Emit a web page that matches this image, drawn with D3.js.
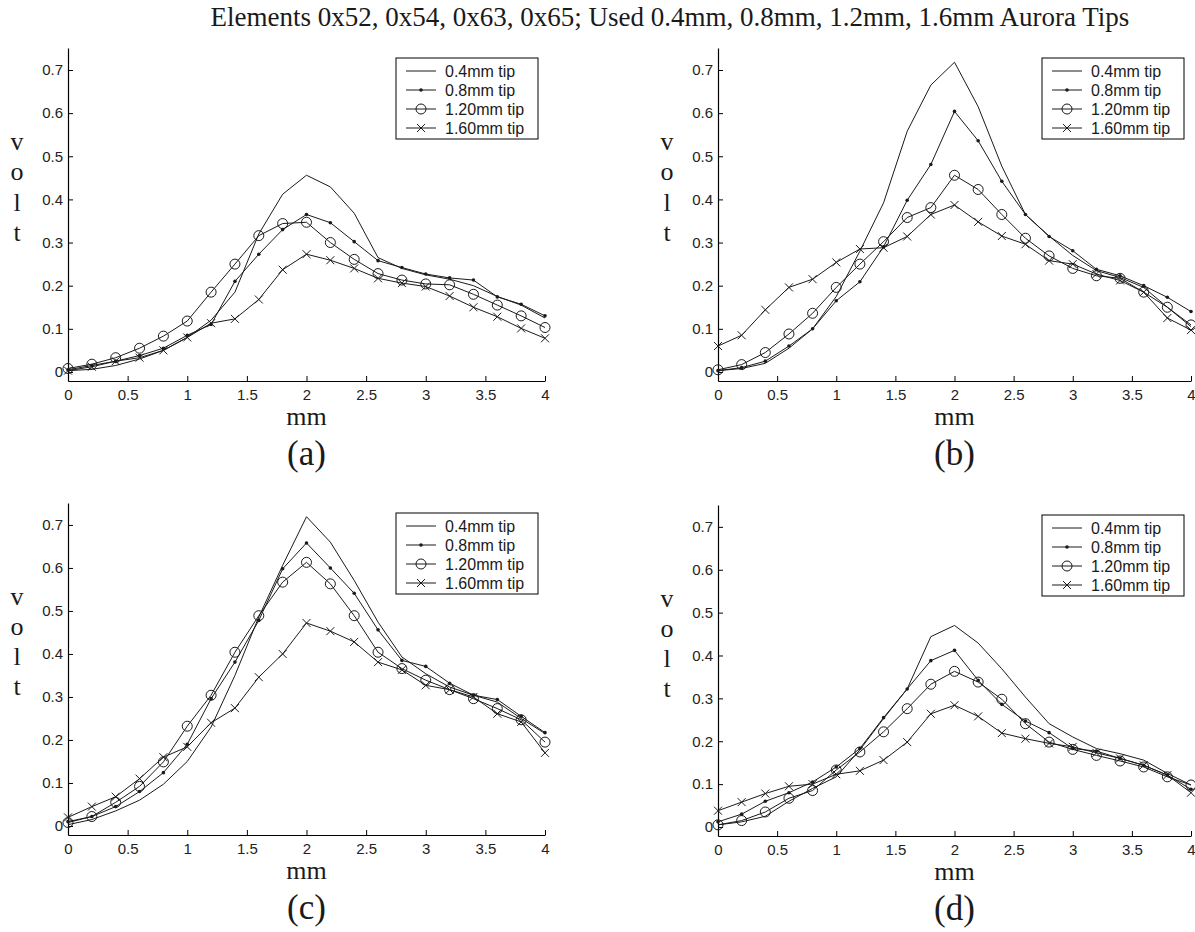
<!DOCTYPE html>
<html>
<head>
<meta charset="utf-8">
<script src="https://cdn.jsdelivr.net/npm/d3@7"></script>
<style>
body { margin: 0; background: #fff; }
</style>
</head>
<body>
<div id="chart"></div>
<script>
var titleText = "Elements 0x52, 0x54, 0x63, 0x65; Used 0.4mm, 0.8mm, 1.2mm, 1.6mm Aurora Tips";
var seriesNames = ["0.4mm tip", "0.8mm tip", "1.20mm tip", "1.60mm tip"];
var panelNames = ["(a)", "(b)", "(c)", "(d)"];
var xMm = [0, 0.2, 0.4, 0.6, 0.8, 1, 1.2, 1.4, 1.6, 1.8, 2, 2.2, 2.4, 2.6, 2.8, 3, 3.2, 3.4, 3.6, 3.8, 4];
var xTicks = [0, 0.5, 1, 1.5, 2, 2.5, 3, 3.5, 4];
var yTicks = [0, 0.1, 0.2, 0.3, 0.4, 0.5, 0.6, 0.7];

// panel (a)
var a04 = [0.003, 0.006, 0.015, 0.03, 0.05, 0.08, 0.12, 0.185, 0.32, 0.412, 0.456, 0.429, 0.368, 0.265, 0.24, 0.225, 0.215, 0.2, 0.175, 0.155, 0.125];
var a08 = [0.005, 0.015, 0.025, 0.038, 0.055, 0.085, 0.11, 0.21, 0.273, 0.33, 0.365, 0.346, 0.302, 0.258, 0.242, 0.227, 0.218, 0.213, 0.174, 0.157, 0.13];
var a12 = [0.008, 0.018, 0.033, 0.055, 0.083, 0.118, 0.185, 0.25, 0.316, 0.344, 0.347, 0.3, 0.261, 0.228, 0.213, 0.204, 0.202, 0.18, 0.155, 0.13, 0.103];
var a16 = [0.003, 0.012, 0.025, 0.033, 0.05, 0.08, 0.113, 0.123, 0.168, 0.237, 0.273, 0.259, 0.24, 0.217, 0.206, 0.198, 0.176, 0.15, 0.128, 0.101, 0.078];
// panel (b)
var b04 = [0.003, 0.008, 0.02, 0.055, 0.1, 0.175, 0.28, 0.392, 0.558, 0.665, 0.718, 0.615, 0.477, 0.365, 0.315, 0.27, 0.235, 0.219, 0.196, 0.15, 0.105];
var b08 = [0.003, 0.01, 0.025, 0.06, 0.1, 0.165, 0.209, 0.29, 0.398, 0.481, 0.604, 0.536, 0.442, 0.365, 0.314, 0.281, 0.238, 0.223, 0.2, 0.173, 0.14];
var b12 = [0.005, 0.017, 0.045, 0.088, 0.136, 0.196, 0.25, 0.302, 0.358, 0.381, 0.456, 0.423, 0.365, 0.31, 0.269, 0.24, 0.223, 0.217, 0.185, 0.15, 0.109];
var b16 = [0.06, 0.085, 0.144, 0.196, 0.215, 0.254, 0.285, 0.288, 0.314, 0.365, 0.387, 0.348, 0.315, 0.296, 0.258, 0.25, 0.227, 0.212, 0.185, 0.125, 0.097];
// panel (c)
var c04 = [0.003, 0.015, 0.035, 0.06, 0.097, 0.15, 0.23, 0.35, 0.486, 0.606, 0.719, 0.66, 0.571, 0.474, 0.393, 0.354, 0.323, 0.304, 0.288, 0.25, 0.215];
var c08 = [0.01, 0.022, 0.045, 0.08, 0.124, 0.19, 0.296, 0.381, 0.478, 0.598, 0.658, 0.6, 0.541, 0.456, 0.385, 0.371, 0.332, 0.304, 0.294, 0.255, 0.217];
var c12 = [0.008, 0.022, 0.055, 0.092, 0.149, 0.232, 0.304, 0.404, 0.489, 0.567, 0.613, 0.563, 0.489, 0.404, 0.366, 0.339, 0.317, 0.296, 0.273, 0.247, 0.195];
var c16 = [0.02, 0.045, 0.068, 0.11, 0.16, 0.184, 0.24, 0.274, 0.346, 0.4, 0.472, 0.453, 0.428, 0.381, 0.363, 0.327, 0.317, 0.3, 0.261, 0.242, 0.17];
// panel (d)
var d04 = [0.005, 0.012, 0.025, 0.06, 0.09, 0.117, 0.18, 0.253, 0.322, 0.444, 0.47, 0.429, 0.369, 0.303, 0.241, 0.21, 0.183, 0.171, 0.156, 0.125, 0.098];
var d08 = [0.012, 0.03, 0.06, 0.08, 0.105, 0.14, 0.183, 0.255, 0.322, 0.388, 0.412, 0.342, 0.286, 0.247, 0.22, 0.183, 0.177, 0.16, 0.144, 0.121, 0.088];
var d12 = [0.005, 0.015, 0.035, 0.067, 0.085, 0.133, 0.175, 0.222, 0.276, 0.333, 0.363, 0.338, 0.298, 0.241, 0.198, 0.181, 0.167, 0.154, 0.14, 0.117, 0.098];
var d16 = [0.038, 0.058, 0.078, 0.095, 0.1, 0.123, 0.131, 0.156, 0.198, 0.264, 0.284, 0.258, 0.219, 0.206, 0.195, 0.187, 0.173, 0.16, 0.144, 0.121, 0.08];

var panelData = [[a04, a08, a12, a16], [b04, b08, b12, b16], [c04, c08, c12, c16], [d04, d08, d12, d16]];
var markerKinds = ["none", "dot", "circle", "cross"];

var w = 1195;
var h = 932;
var ink = "#1a1a1a";
var sans = "'Liberation Sans', Arial, sans-serif";
var serif = "'Liberation Serif', 'Times New Roman', serif";

// plot boxes for the 2x2 grid
var boxes = [
	{left: 68, right: 545, top: 48, bottom: 381},
	{left: 718, right: 1191, top: 48, bottom: 381},
	{left: 68, right: 545, top: 503, bottom: 835},
	{left: 718, right: 1191, top: 505, bottom: 836}
];

var svg = d3.select("#chart")
	.append("svg")
	.attr("width", w)
	.attr("height", h);

svg.append("text")
	.attr("x", 670)
	.attr("y", 26)
	.attr("text-anchor", "middle")
	.attr("font-family", serif)
	.attr("font-size", "27px")
	.attr("fill", ink)
	.text(titleText);

function drawMarker(g, kind, x, y) {
	if (kind == "dot") {
		g.append("circle").attr("cx", x).attr("cy", y).attr("r", 1.8).attr("fill", ink);
	} else if (kind == "circle") {
		g.append("circle").attr("cx", x).attr("cy", y).attr("r", 5)
			.attr("fill", "none").attr("stroke", ink).attr("stroke-width", 1);
	} else if (kind == "cross") {
		var s = 4;
		g.append("path")
			.attr("d", "M" + (x - s) + "," + (y - s) + "L" + (x + s) + "," + (y + s) +
				"M" + (x - s) + "," + (y + s) + "L" + (x + s) + "," + (y - s))
			.attr("stroke", ink).attr("stroke-width", 1);
	}
}

boxes.forEach(function (b, p) {
	var xScale = d3.scaleLinear().domain([0, 4]).range([b.left, b.right]);
	var yScale = d3.scaleLinear().domain([-0.021, 0.751]).range([b.bottom, b.top]);
	var g = svg.append("g");

	// axes: ticks point inward like the original
	var xAxis = g.append("g")
		.attr("transform", "translate(0," + b.bottom + ")")
		.call(d3.axisBottom(xScale).tickValues(xTicks).tickSizeInner(-5).tickSizeOuter(0)
			.tickFormat(d3.format("")));
	var yAxis = g.append("g")
		.attr("transform", "translate(" + b.left + ",0)")
		.call(d3.axisLeft(yScale).tickValues(yTicks).tickSizeInner(-5).tickSizeOuter(0)
			.tickFormat(d3.format("")));
	[xAxis, yAxis].forEach(function (ax) {
		ax.select(".domain").attr("stroke", "#000").attr("stroke-width", 1.2);
		ax.selectAll(".tick line").attr("stroke", "#000");
		ax.selectAll(".tick text")
			.attr("font-family", sans)
			.attr("font-size", "15px")
			.attr("fill", "#222");
	});
	xAxis.selectAll(".tick text").attr("y", 8);
	yAxis.selectAll(".tick text").attr("x", -5);

	// series lines and markers
	var line = d3.line()
		.x(function (d, i) { return xScale(xMm[i]); })
		.y(function (d) { return yScale(d); });
	panelData[p].forEach(function (vals, s) {
		g.append("path")
			.attr("d", line(vals))
			.attr("fill", "none")
			.attr("stroke", ink)
			.attr("stroke-width", 1);
		vals.forEach(function (v, i) {
			drawMarker(g, markerKinds[s], xScale(xMm[i]), yScale(v));
		});
	});

	// axis titles
	var cx = (b.left + b.right) / 2;
	g.append("text")
		.attr("x", cx).attr("y", b.bottom + 44)
		.attr("text-anchor", "middle")
		.attr("font-family", serif).attr("font-size", "26px").attr("fill", ink)
		.text("mm");
	g.append("text")
		.attr("x", cx).attr("y", b.bottom + 84)
		.attr("text-anchor", "middle")
		.attr("font-family", serif).attr("font-size", "35px").attr("fill", ink)
		.text(panelNames[p]);
	["v", "o", "l", "t"].forEach(function (ch, i) {
		g.append("text")
			.attr("x", b.left - 51)
			.attr("y", yScale(0.535 - i * 0.07))
			.attr("dy", "0.35em")
			.attr("text-anchor", "middle")
			.attr("font-family", serif).attr("font-size", "26px").attr("fill", ink)
			.text(ch);
	});

	// legend
	var lx = b.right - 149;
	var ly = b.top + 10;
	var leg = g.append("g");
	leg.append("rect")
		.attr("x", lx).attr("y", ly)
		.attr("width", 142).attr("height", 81)
		.attr("fill", "#fff").attr("stroke", "#000").attr("stroke-width", 1);
	seriesNames.forEach(function (name, s) {
		var yy = ly + 13 + s * 19;
		leg.append("line")
			.attr("x1", lx + 10).attr("x2", lx + 40)
			.attr("y1", yy).attr("y2", yy)
			.attr("stroke", ink).attr("stroke-width", 1);
		drawMarker(leg, markerKinds[s], lx + 25, yy);
		leg.append("text")
			.attr("x", lx + 49).attr("y", yy)
			.attr("dy", "0.35em")
			.attr("font-family", sans).attr("font-size", "16px").attr("fill", ink)
			.text(name);
	});
});
</script>
</body>
</html>
